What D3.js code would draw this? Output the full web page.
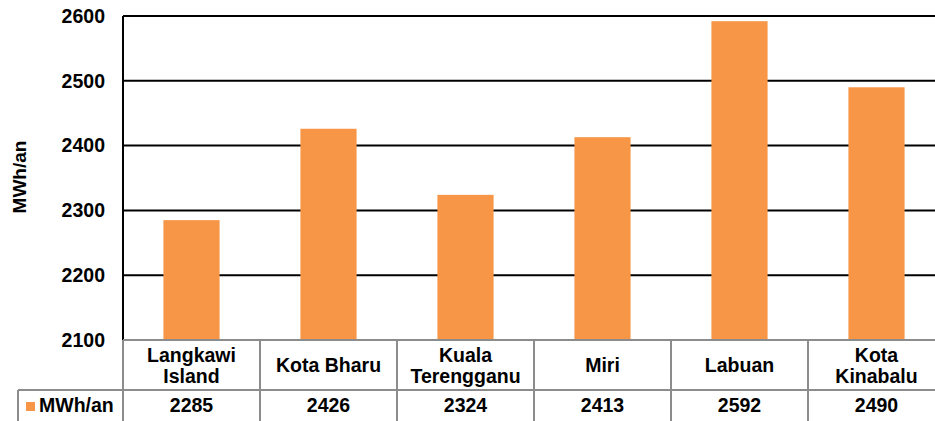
<!DOCTYPE html>
<html>
<head>
<meta charset="utf-8">
<script src="https://cdn.jsdelivr.net/npm/d3@7"></script>
<style>
  body { margin: 0; background: #fff; }
  text { font-family: "Liberation Sans", Arial, sans-serif; font-weight: bold; fill: #000; }
</style>
</head>
<body>
<svg id="chart" width="935" height="421"></svg>
<script>
// chart data
const cities = [["Langkawi", "Island"], ["Kota Bharu"], ["Kuala", "Terengganu"], ["Miri"], ["Labuan"], ["Kota", "Kinabalu"]];
const production = [2285, 2426, 2324, 2413, 2592, 2490];
const yTicks = [2100, 2200, 2300, 2400, 2500, 2600];
const seriesName = "MWh/an";

const svg = d3.select("#chart");
const plotLeft = 123, plotRight = 945, plotTop = 16, plotBottom = 340;
const rowH = 50;
const fs = "19.5px";

const x = d3.scaleBand().domain(d3.range(cities.length)).range([plotLeft, plotRight]).paddingInner(0.59).paddingOuter(0.295);
const band = (plotRight - plotLeft) / cities.length;
const y = d3.scaleLinear().domain([2100, 2600]).range([plotBottom, plotTop]);

// gridlines
svg.append("g")
  .selectAll("line")
  .data(yTicks.slice(1))
  .join("line")
    .attr("x1", plotLeft).attr("x2", 935)
    .attr("y1", d => y(d)).attr("y2", d => y(d))
    .attr("stroke", "#000").attr("stroke-width", 2);

// bars
svg.append("g")
  .selectAll("rect")
  .data(production)
  .join("rect")
    .attr("x", (d, i) => x(i))
    .attr("y", d => y(d))
    .attr("width", x.bandwidth())
    .attr("height", d => y(2100) - y(d))
    .attr("fill", "#F79646");

// y axis
const yAxis = svg.append("g")
  .attr("transform", `translate(${plotLeft},0)`)
  .call(d3.axisLeft(y).tickValues(yTicks).tickSize(0).tickPadding(18).tickFormat(d3.format("d")));
yAxis.select(".domain").attr("stroke", "#000").attr("stroke-width", 2).attr("d", `M0,${plotTop}V${plotBottom}`);
yAxis.selectAll("text").style("font-size", fs).attr("font-family", null);

svg.append("text")
  .attr("transform", `translate(26,177) rotate(-90)`)
  .attr("text-anchor", "middle")
  .style("font-size", "19px")
  .text(seriesName);

// data table
const grid = svg.append("g").attr("stroke", "#8c8c8c").attr("stroke-width", 2);
grid.append("line").attr("x1", plotLeft).attr("x2", 935).attr("y1", plotBottom).attr("y2", plotBottom);
grid.append("line").attr("x1", 18).attr("x2", 935).attr("y1", plotBottom + rowH).attr("y2", plotBottom + rowH);
grid.append("line").attr("x1", 18).attr("x2", 18).attr("y1", plotBottom + rowH).attr("y2", 421);
grid.selectAll(".v")
  .data(d3.range(cities.length))
  .join("line")
    .attr("x1", i => plotLeft + i * band).attr("x2", i => plotLeft + i * band)
    .attr("y1", plotBottom).attr("y2", 421);

const cat = svg.append("g")
  .selectAll("text")
  .data(cities)
  .join("text")
    .attr("text-anchor", "middle")
    .attr("x", (d, i) => plotLeft + (i + 0.5) * band)
    .attr("y", d => d.length === 1 ? plotBottom + 32 : plotBottom + 22)
    .style("font-size", fs);
cat.selectAll("tspan")
  .data(d => d)
  .join("tspan")
    .attr("x", function() { return this.parentNode.getAttribute("x"); })
    .attr("dy", (d, i) => i === 0 ? 0 : 21)
    .text(d => d);

svg.append("g")
  .selectAll("text")
  .data(production)
  .join("text")
    .attr("text-anchor", "middle")
    .attr("x", (d, i) => plotLeft + (i + 0.5) * band)
    .attr("y", plotBottom + rowH + 22)
    .style("font-size", fs)
    .text(d => d);

// legend key
svg.append("rect").attr("x", 26).attr("y", 402).attr("width", 9).attr("height", 9).attr("fill", "#F79646");
svg.append("text").attr("x", 39).attr("y", 412).style("font-size", fs).text(seriesName);
</script>
</body>
</html>
